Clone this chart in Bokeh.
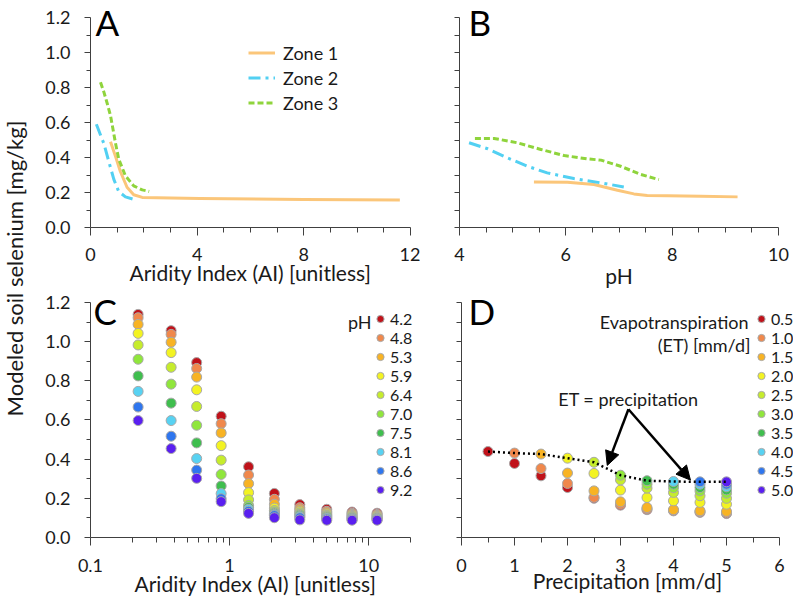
import numpy as np
from bokeh.plotting import figure
from bokeh.layouts import row, column
from bokeh.models import (Range1d, FixedTicker, Legend, LegendItem, Label, Arrow,
                          NormalHead, PrintfTickFormatter, BasicTickFormatter)
from bokeh.embed import file_html
from bokeh.resources import INLINE

FONT = "Lato"
TXT = "#1a1a1a"
AXC = "#404040"

# ---------------- data ----------------
# Panel A: soil Se vs aridity index, by zone
zone1_ai = [0.75, 0.94, 1.12, 1.37, 1.62, 1.94, 4.1, 8.0, 11.6]
zone1_se_a = [0.49, 0.405, 0.32, 0.23, 0.187, 0.172, 0.166, 0.160, 0.157]
zone2_ai = [0.22, 0.5, 0.69, 0.875, 1.06, 1.31, 1.6]
zone2_se_a = [0.59, 0.48, 0.375, 0.275, 0.205, 0.175, 0.162]
zone3_ai = [0.375, 0.5, 0.625, 0.75, 0.94, 1.06, 1.31, 1.62, 1.94, 2.2]
zone3_se_a = [0.83, 0.775, 0.71, 0.64, 0.48, 0.39, 0.295, 0.238, 0.215, 0.206]

# Panel B: soil Se vs pH, by zone
zone1_ph = [5.40, 6.03, 6.53, 6.97, 7.28, 7.53, 7.91, 8.54, 9.23]
zone1_se_b = [0.26, 0.259, 0.246, 0.213, 0.192, 0.183, 0.181, 0.179, 0.175]
zone2_ph = [4.18, 4.53, 4.9, 5.28, 5.65, 6.15, 6.66, 7.09]
zone2_se_b = [0.484, 0.45, 0.398, 0.35, 0.312, 0.28, 0.255, 0.232]
zone3_ph = [4.29, 4.65, 5.09, 5.53, 5.97, 6.41, 6.66, 7.03, 7.41, 7.75]
zone3_se_b = [0.509, 0.509, 0.484, 0.446, 0.411, 0.392, 0.385, 0.35, 0.303, 0.274]

zone_names = ["Zone 1", "Zone 2", "Zone 3"]

# Panel C: modeled Se vs aridity index for pH classes
ai_c = [0.22, 0.38, 0.58, 0.87, 1.37, 2.1, 3.2, 5.0, 7.6, 11.5]
ph_labels = ["4.2", "4.8", "5.3", "5.9", "6.4", "7.0", "7.5", "8.1", "8.6", "9.2"]
se_ph42 = [1.139, 1.056, 0.893, 0.619, 0.361, 0.225, 0.168, 0.144, 0.130, 0.124]
se_ph48 = [1.122, 1.037, 0.863, 0.581, 0.319, 0.195, 0.152, 0.134, 0.124, 0.118]
se_ph53 = [1.088, 0.997, 0.819, 0.534, 0.275, 0.170, 0.142, 0.127, 0.118, 0.113]
se_ph59 = [1.042, 0.944, 0.754, 0.469, 0.229, 0.150, 0.133, 0.120, 0.113, 0.108]
se_ph64 = [0.983, 0.869, 0.669, 0.395, 0.192, 0.138, 0.126, 0.114, 0.108, 0.104]
se_ph70 = [0.910, 0.783, 0.573, 0.322, 0.164, 0.130, 0.119, 0.109, 0.104, 0.100]
se_ph75 = [0.825, 0.686, 0.483, 0.263, 0.153, 0.124, 0.113, 0.104, 0.100, 0.097]
se_ph81 = [0.746, 0.597, 0.403, 0.224, 0.144, 0.118, 0.107, 0.099, 0.096, 0.094]
se_ph86 = [0.666, 0.517, 0.344, 0.198, 0.134, 0.112, 0.101, 0.094, 0.092, 0.091]
se_ph92 = [0.597, 0.454, 0.302, 0.183, 0.123, 0.101, 0.090, 0.088, 0.088, 0.088]
se_by_ph = [se_ph42, se_ph48, se_ph53, se_ph59, se_ph64,
            se_ph70, se_ph75, se_ph81, se_ph86, se_ph92]

# Panel D: modeled Se vs precipitation for ET classes (only P >= ET)
precip = [0.5, 1.0, 1.5, 2.0, 2.5, 3.0, 3.5, 4.0, 4.5, 5.0]
et_labels = ["0.5", "1.0", "1.5", "2.0", "2.5", "3.0", "3.5", "4.0", "4.5", "5.0"]
se_et05 = [0.439, 0.378, 0.315, 0.255, 0.200, 0.165, 0.142, 0.136, 0.128, 0.122]
se_et10 = [0.431, 0.352, 0.276, 0.205, 0.170, 0.146, 0.139, 0.132, 0.126]
se_et15 = [0.426, 0.329, 0.238, 0.182, 0.153, 0.142, 0.136, 0.133]
se_et20 = [0.405, 0.327, 0.242, 0.204, 0.187, 0.179, 0.170]
se_et25 = [0.384, 0.294, 0.252, 0.230, 0.213, 0.200]
se_et30 = [0.318, 0.272, 0.254, 0.238, 0.226]
se_et35 = [0.290, 0.272, 0.255, 0.243]
se_et40 = [0.286, 0.272, 0.259]
se_et45 = [0.284, 0.272]
se_et50 = [0.284]
se_by_et = [se_et05, se_et10, se_et15, se_et20, se_et25,
            se_et30, se_et35, se_et40, se_et45, se_et50]

class_colors = ["#c0121a", "#f0884c", "#f8b324", "#f3f322", "#c6ec2c",
                "#90e63c", "#3fbe4e", "#58d2f2", "#2f76ee", "#5a1ff0"]
zone_colors = ["#fbc67a", "#52d0f2", "#8fd43c"]

Y_MAJOR = [0.0, 0.2, 0.4, 0.6, 0.8, 1.0, 1.2]
Y_MINOR = [0.1, 0.3, 0.5, 0.7, 0.9, 1.1]
Y_ALL = [0.0, 0.1, 0.2, 0.3, 0.4, 0.5, 0.6, 0.7, 0.8, 0.9, 1.0, 1.1, 1.2]

# frames extend above the 1.2 tick (room for the panel letters);
# the y axis itself is drawn only from 0 to 1.2
Y_TOP_ROW1 = 1.2 * 227 / 210
Y_TOP_ROW2 = 1.2 * 248 / 236


def style(p, xlabel, labeled_y=True, tick_standoff=12, xlab_standoff=-4):
    p.xgrid.visible = False
    p.ygrid.visible = False
    p.outline_line_color = None
    p.background_fill_color = "white"
    for ax in p.axis:
        ax.axis_line_color = AXC
        ax.axis_line_width = 1
        ax.major_tick_line_color = AXC
        ax.minor_tick_line_color = AXC
        ax.major_tick_in = 0
        ax.minor_tick_in = 0
        ax.major_label_text_font = FONT
        ax.major_label_text_font_size = "18px"
        ax.major_label_text_color = TXT
        ax.axis_label_text_font = FONT
        ax.axis_label_text_font_size = "21px"
        ax.axis_label_text_font_style = "normal"
        ax.axis_label_text_color = TXT
    xa = p.xaxis[0]
    xa.axis_label = xlabel
    xa.major_tick_out = 8
    xa.minor_tick_out = 5
    xa.major_label_standoff = tick_standoff
    xa.axis_label_standoff = xlab_standoff
    ya = p.yaxis[0]
    ya.bounds = (0, 1.2)
    if labeled_y:
        ya.ticker = FixedTicker(ticks=Y_MAJOR, minor_ticks=Y_MINOR)
        ya.formatter = PrintfTickFormatter(format="%.1f")
        ya.major_tick_out = 6
        ya.minor_tick_out = 4
        ya.major_label_standoff = 14
    else:
        ya.ticker = FixedTicker(ticks=[], minor_ticks=Y_ALL)
        ya.minor_tick_out = 5


def panel_letter(p, letter, x, y):
    p.add_layout(Label(x=x, y=y, x_units="screen", y_units="screen", text=letter,
                       text_font=FONT, text_font_size="35px", text_color="black",
                       text_baseline="middle", text_align="left"))


def make_fig(w, h, xr, yr, left, right, top, bottom, **kw):
    return figure(width=w, height=h, x_range=xr, y_range=yr,
                  min_border_left=left, min_border_right=right,
                  min_border_top=top, min_border_bottom=bottom,
                  output_backend="svg", toolbar_location=None, **kw)


zone_dash = ["solid", "12 5 3 5", "6 3"]
H1, H2 = 290, 308

# ---------------- Panel A ----------------
pA = make_fig(385, H1, Range1d(0, 12), Range1d(0, Y_TOP_ROW1), 55, 10, 0, 63)
style(pA, "Aridity Index (AI) [unitless]")
pA.xaxis[0].ticker = FixedTicker(ticks=[0, 4, 8, 12], minor_ticks=[1, 2, 3, 5, 6, 7, 9, 10, 11])
rA = []
for xs, ys, c, d in zip([zone1_ai, zone2_ai, zone3_ai], [zone1_se_a, zone2_se_a, zone3_se_a],
                        zone_colors, zone_dash):
    rA.append(pA.line(xs, ys, line_color=c, line_width=3, line_dash=d, line_join="round"))
legA = Legend(items=[LegendItem(label=n, renderers=[r]) for n, r in zip(zone_names, rA)],
              location=(158, 112), padding=0, spacing=0, margin=0,
              glyph_width=27, glyph_height=25, label_height=25, label_standoff=8,
              label_text_font=FONT, label_text_font_size="18px", label_text_color=TXT,
              background_fill_alpha=0, border_line_alpha=0)
pA.add_layout(legA)
panel_letter(pA, "A", 5, 205.5)

# ---------------- Panel B ----------------
pB = make_fig(373, H1, Range1d(4, 10), Range1d(0, Y_TOP_ROW1), 39, 15, 0, 63)
style(pB, "pH", labeled_y=False, xlab_standoff=-1)
pB.xaxis[0].ticker = FixedTicker(ticks=[4, 6, 8, 10],
                                 minor_ticks=[4.5, 5, 5.5, 6.5, 7, 7.5, 8.5, 9, 9.5])
for xs, ys, c, d in zip([zone1_ph, zone2_ph, zone3_ph], [zone1_se_b, zone2_se_b, zone3_se_b],
                        zone_colors, zone_dash):
    pB.line(xs, ys, line_color=c, line_width=3, line_dash=d, line_join="round")
panel_letter(pB, "B", 9, 205.5)

# ---------------- Panel C ----------------
# frame runs to the figure edge so the legend labels fit; axis drawn only 0.1..20
c_end = 10 ** (-1 + np.log10(200) * 330 / 320)
pC = make_fig(385, H2, Range1d(0.1, c_end), Range1d(0, Y_TOP_ROW2), 55, 0, 0, 60,
              x_axis_type="log")
style(pC, "Aridity Index (AI) [unitless]", tick_standoff=13, xlab_standoff=-4)
pC.xaxis[0].bounds = (0.1, 20)
pC.xaxis[0].ticker = FixedTicker(
    ticks=[0.1, 1, 10],
    minor_ticks=[0.2, 0.3, 0.4, 0.5, 0.6, 0.7, 0.8, 0.9, 2, 3, 4, 5, 6, 7, 8, 9, 20])
pC.xaxis[0].formatter = BasicTickFormatter()
pC.xaxis[0].major_label_overrides = {0.1: "0.1", 1: "1", 10: "10"}
rC = []
for ys, c in zip(se_by_ph, class_colors):
    rC.append(pC.scatter(ai_c, ys, marker="circle", size=10, fill_color=c,
                         line_color="#a8a8a8", line_width=1))
legC = Legend(items=[LegendItem(label=l, renderers=[r]) for l, r in zip(ph_labels, rC)],
              location=(281, 38), padding=0, spacing=0, margin=0,
              glyph_width=18, glyph_height=19, label_height=19, label_standoff=1,
              label_text_font=FONT, label_text_font_size="16px", label_text_color=TXT,
              background_fill_alpha=0, border_line_alpha=0)
pC.add_layout(legC)
pC.add_layout(Label(x=281, y=216, x_units="screen", y_units="screen", text="pH",
                    text_font=FONT, text_font_size="18px", text_color=TXT,
                    text_align="right", text_baseline="middle"))
panel_letter(pC, "C", 3, 226.5)

# ---------------- Panel D ----------------
d_end = 6 + 14 / 53.0
pD = make_fig(373, H2, Range1d(0, d_end), Range1d(0, Y_TOP_ROW2), 41, 0, 0, 60)
style(pD, "Precipitation [mm/d]", labeled_y=False, tick_standoff=13, xlab_standoff=-7)
pD.xaxis[0].bounds = (0, 6)
pD.xaxis[0].ticker = FixedTicker(ticks=[0, 1, 2, 3, 4, 5, 6],
                                 minor_ticks=[0.5, 1.5, 2.5, 3.5, 4.5, 5.5])
rD = []
for k, (ys, c) in enumerate(zip(se_by_et, class_colors)):
    xs = precip[k:]
    rD.append(pD.scatter(xs, ys, marker="circle", size=10, fill_color=c,
                         line_color="#a8a8a8", line_width=1))
# ET = precipitation points (first value of each ET series)
diag = [s[0] for s in se_by_et]
pD.line(precip, diag, line_color="black", line_width=2.5, line_dash="2 3")
legD = Legend(items=[LegendItem(label=l, renderers=[r]) for l, r in zip(et_labels, rD)],
              location=(291, 38), padding=0, spacing=0, margin=0,
              glyph_width=18, glyph_height=19, label_height=19, label_standoff=1,
              label_text_font=FONT, label_text_font_size="16px", label_text_color=TXT,
              background_fill_alpha=0, border_line_alpha=0)
pD.add_layout(legD)
pD.add_layout(Label(x=287, y=216, x_units="screen", y_units="screen", text="Evapotranspiration",
                    text_font=FONT, text_font_size="18px", text_color=TXT,
                    text_align="right", text_baseline="middle"))
pD.add_layout(Label(x=289, y=193, x_units="screen", y_units="screen", text="(ET) [mm/d]",
                    text_font=FONT, text_font_size="18px", text_color=TXT,
                    text_align="right", text_baseline="middle"))
pD.add_layout(Label(x=3.15, y=0.705, text="ET = precipitation",
                    text_font=FONT, text_font_size="18px", text_color=TXT,
                    text_align="center", text_baseline="middle"))
for xe, ye in [(2.75, 0.368), (4.32, 0.293)]:
    pD.add_layout(Arrow(end=NormalHead(size=14, fill_color="black", line_color="black"),
                        x_start=3.15, y_start=0.655, x_end=xe, y_end=ye,
                        line_color="black", line_width=2.5))
panel_letter(pD, "D", 7, 226.5)

# ---------------- shared y label ----------------
pY = figure(width=35, height=H1 + H2, x_range=Range1d(0, 1), y_range=Range1d(0, 1),
            x_axis_location=None, y_axis_location=None, min_border=0,
            output_backend="svg", toolbar_location=None)
pY.xgrid.visible = False
pY.ygrid.visible = False
pY.outline_line_color = None
pY.add_layout(Label(x=14, y=330, x_units="screen", y_units="screen",
                    text="Modeled soil selenium [mg/kg]", angle=np.pi / 2,
                    text_font=FONT, text_font_size="22px", text_color=TXT,
                    text_align="center", text_baseline="middle"))

layout = row(pY, column(row(pA, pB), row(pC, pD)))
open("out.html", "w").write(file_html(layout, INLINE))
